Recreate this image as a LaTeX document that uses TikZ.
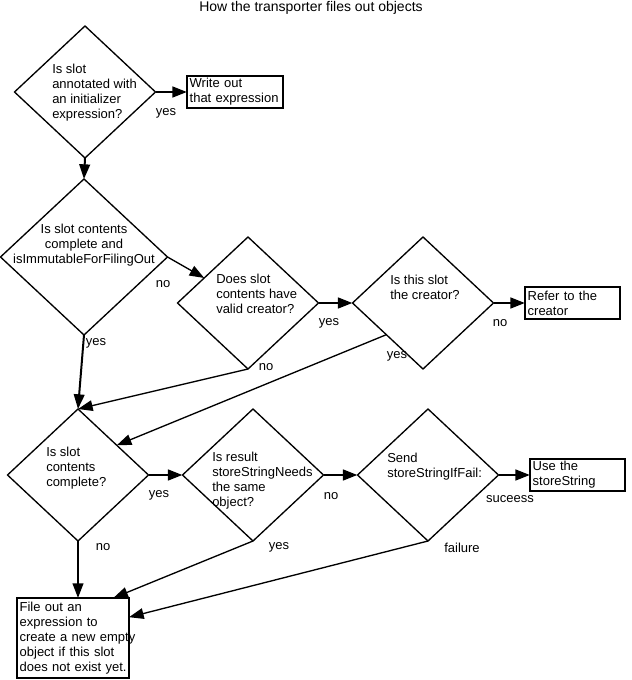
\documentclass[tikz,border=0pt]{standalone}
\usepackage{fontspec}
\setmainfont{Liberation Sans}
\usepackage{tikz}
\usetikzlibrary{arrows.meta,shapes.geometric,calc}
\newcommand{\fctext}{\fontsize{9.75}{11.25}\selectfont}
\tikzset{
  fc/decision/.style={draw, diamond, line width=1pt, inner sep=0pt, outer sep=0pt, minimum width=105.75pt, minimum height=99pt},
  fc/bigdecision/.style={fc/decision, minimum width=125.25pt, minimum height=117pt},
  fc/action/.style={draw, line width=1.8pt, inner xsep=2pt, inner ysep=0pt, outer sep=0pt, align=left, font=\fctext},
  fc/qtext/.style={anchor=north west, inner sep=0pt, align=left, font=\fctext},
  fc/label/.style={inner sep=0pt, font=\fctext},
  fc/title/.style={inner sep=0pt, font=\fontsize{10.5}{12}\selectfont},
  fc/flow/.style={line width=1pt, -{Triangle[length=11pt, width=8pt]}},
  fc/down/.style={fc/flow, line width=1.5pt},
  fc/branch/.style={fc/flow, line width=2pt}
}

\begin{document}
\begin{tikzpicture}[x=0.75pt, y=-0.75pt]
  \useasboundingbox (0,0) rectangle (631,680);
  \node[fc/title] (title) at (311,8) {How the transporter files out objects};

  % first question
  \node[fc/decision] (annotated) at (85,92) {};
  \node[fc/qtext] (annotatedtxt) at (52,64) {Is slot\\annotated with\\an initializer\\expression?};
  \node[fc/action, text width=68pt, minimum height=24pt] (writeout) at (235,92) {Write out\\that expression};

  % second row
  \node[fc/bigdecision] (immutable) at (84,257) {};
  \node[fc/qtext, anchor=north, align=center] (immutabletxt) at (84,224) {Is slot contents\\complete and\\isImmutableForFilingOut};
  \node[fc/decision] (validcreator) at (248,303) {};
  \node[fc/qtext] (validcreatortxt) at (216,274) {Does slot\\contents have\\valid creator?};
  \node[fc/decision] (isthecreator) at (423,303) {};
  \node[fc/qtext] (isthecreatortxt) at (390,275) {Is this slot\\the creator?};
  \node[fc/action, text width=67.25pt, minimum height=24pt] (refer) at (572.5,303) {Refer to the\\creator};

  % third row
  \node[fc/decision] (complete) at (78,475) {};
  \node[fc/qtext] (completetxt) at (46,447) {Is slot\\contents\\complete?};
  \node[fc/decision] (samestr) at (253,475) {};
  \node[fc/qtext] (samestrtxt) at (212,452) {Is result\\storeStringNeeds\\the same\\object?};
  \node[fc/decision] (sendfail) at (428,475) {};
  \node[fc/qtext] (sendfailtxt) at (387,453) {Send\\storeStringIfFail:};
  \node[fc/action, text width=67.25pt, minimum height=24pt] (usestr) at (577.5,475) {Use the\\storeString};

  \node[fc/action, text width=80pt, minimum height=60pt] (fileout) at (73,638) {File out an\\expression to\\\mbox{create a new empty}\\\mbox{object if this slot}\\\mbox{does not exist yet.}};

  % connectors
  \draw[fc/down] (annotated.south) -- (immutable.north);
  \draw[fc/branch] (annotated.east) -- (writeout.west);
  \draw[fc/flow] (immutable.east) -- (validcreator);
  \draw[fc/down] (immutable.south) -- (complete.north);
  \draw[fc/branch] (validcreator.east) -- (isthecreator.west);
  \draw[fc/branch] (isthecreator.east) -- (refer.west);
  \draw[fc/flow] (validcreator.south) -- (complete.north);
  \draw[fc/flow] ($(isthecreator.west)!0.48!(isthecreator.south)$) -- ($(complete.north)!0.55!(complete.east)$);
  \draw[fc/branch] (complete.east) -- (samestr.west);
  \draw[fc/branch] (samestr.east) -- (sendfail.west);
  \draw[fc/branch] (sendfail.east) -- (usestr.west);
  \draw[fc/down] (complete.south) -- (complete.south |- fileout.north);
  \draw[fc/flow] (samestr.south) -- ($(fileout.north west)!0.86!(fileout.north east)$);
  \draw[fc/flow] (sendfail.south) -- ($(fileout.north east)!0.24!(fileout.south east)$);

  % answers
  \node[fc/label] (lblinit) at (166,113) {yes};
  \node[fc/label] (lblimmno) at (163,284) {no};
  \node[fc/label] (lblimmyes) at (96,343) {yes};
  \node[fc/label] (lblvalidno) at (266,367) {no};
  \node[fc/label] (lblvalidyes) at (329,323) {yes};
  \node[fc/label] (lblcreatorno) at (500,323) {no};
  \node[fc/label] (lblcreatoryes) at (397,356) {yes};
  \node[fc/label] (lblcompyes) at (159,495) {yes};
  \node[fc/label] (lblcompno) at (103,547) {no};
  \node[fc/label] (lblsameno) at (331,496) {no};
  \node[fc/label] (lblsameyes) at (279,547) {yes};
  \node[fc/label] (lblsuccess) at (510,499) {suceess};
  \node[fc/label] (lblfailure) at (462,548) {failure};
\end{tikzpicture}
\end{document}
